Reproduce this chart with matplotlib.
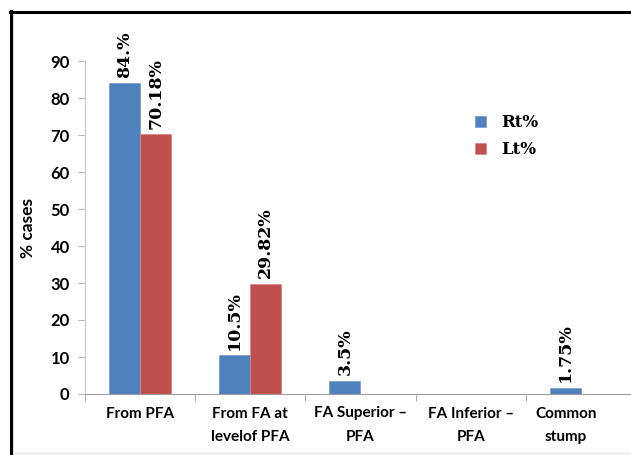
import matplotlib
matplotlib.use('Agg')
import matplotlib.pyplot as plt
import matplotlib.transforms as mtransforms
from matplotlib.patches import Rectangle
from matplotlib.lines import Line2D
import numpy as np

categories = ['From PFA', 'From FA at\nlevelof PFA', 'FA Superior \u2013\nPFA',
              'FA Inferior \u2013\nPFA', 'Common\nstump']
rt_values = [84, 10.5, 3.5, 0, 1.75]
lt_values = [70.18, 29.82, 0, 0, 0]
rt_labels = ['84.%', '10.5%', '3.5%', '', '1.75%']
lt_labels = ['70.18%', '29.82%', '', '', '']

BLUE = '#4F81BD'
RED = '#C0504D'
W, H = 631, 455

fig = plt.figure(figsize=(W / 100, H / 100), dpi=100)
fig.patch.set_facecolor('white')

# plot area runs a little past the right edge of the figure
ax = fig.add_axes([85 / W, (H - 394) / H, (636 - 85) / W, (394 - 61) / H])
ax.set_facecolor('none')

x = np.arange(len(categories))
bw = 0.282
ax.bar(x - bw / 2, rt_values, bw, color=BLUE, edgecolor='#7A9FCF', linewidth=0.6, label='Rt%', zorder=2)
ax.bar(x + bw / 2, lt_values, bw, color=RED, edgecolor='#D98A88', linewidth=0.6, label='Lt%', zorder=2)

lab_font = dict(family='DejaVu Serif', weight='bold', size=12.5)
for xi, v, s in zip(x - bw / 2, rt_values, rt_labels):
    if s:
        ax.annotate(s, (xi, v), xytext=(0, 4), textcoords='offset points',
                    rotation=90, ha='center', va='bottom', **lab_font)
for xi, v, s in zip(x + bw / 2, lt_values, lt_labels):
    if s:
        ax.annotate(s, (xi, v), xytext=(0, 4), textcoords='offset points',
                    rotation=90, ha='center', va='bottom', **lab_font)

ax.set_xlim(-0.5, len(categories) - 0.5)
ax.set_ylim(0, 90)
ax.set_yticks(range(0, 91, 10))
ax.set_xticks(x)
ax.set_xticklabels(categories, family='Lato', weight='bold', fontsize=11, linespacing=1.85)
ax.set_xticks(np.arange(-0.5, len(categories) + 0.5, 1), minor=True)
for lbl in ax.get_yticklabels():
    lbl.set_family('Lato')
    lbl.set_weight('bold')
    lbl.set_fontsize(12)

ax.tick_params(axis='x', which='major', length=0, pad=9)
ax.tick_params(axis='x', which='minor', length=5, color='#A0A0A0', direction='out')
ax.tick_params(axis='y', length=5, color='#B8B8B8', direction='out', pad=6)

for side in ['top', 'right']:
    ax.spines[side].set_visible(False)
ax.spines['left'].set_color('#C8C8C8')
ax.spines['bottom'].set_color('#A0A0A0')
ax.spines['left'].set_linewidth(0.8)
ax.spines['bottom'].set_linewidth(0.8)

# last category label sits a bit left of its slot
last = ax.get_xticklabels()[-1]
last.set_transform(last.get_transform() + mtransforms.ScaledTranslation(-15 / 100, 0, fig.dpi_scale_trans))

ax.set_ylabel('% cases', family='Lato', weight='bold', fontsize=12.5)
ax.yaxis.set_label_coords(-0.089, 0.5)

leg = ax.legend(loc='upper left', bbox_to_anchor=(0.68, 0.885), frameon=False,
                prop=dict(family='DejaVu Serif', weight='bold', size=12),
                handlelength=0.7, handleheight=0.7, handletextpad=0.9, labelspacing=0.6)

# outer frame: black left/top edge and a pale strip along the bottom
fig.add_artist(Rectangle((12 / W, 0), (W - 12) / W, 3 / H, transform=fig.transFigure,
                         facecolor='#EFEFEF', edgecolor='none'))
fig.add_artist(Line2D([13 / W, 13 / W], [0, 1 - 13 / H], transform=fig.transFigure,
                      color='#E4E4E4', linewidth=1.5))
fig.add_artist(Line2D([10.5 / W, 10.5 / W], [0, 1 - 11 / H], transform=fig.transFigure,
                      color='black', linewidth=2.2))
fig.add_artist(Line2D([10 / W, 1], [1 - 12 / H, 1 - 12 / H], transform=fig.transFigure,
                      color='black', linewidth=2.2))

fig.savefig('out.png', dpi=100)
